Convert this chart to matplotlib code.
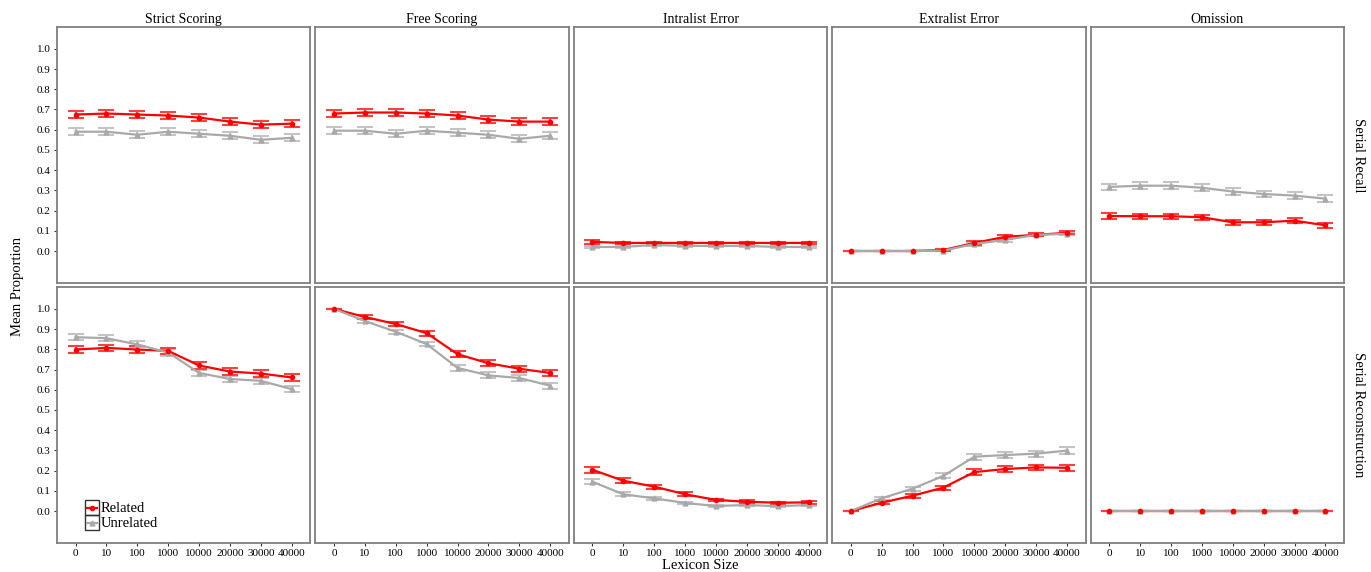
import matplotlib
matplotlib.use("Agg")
from matplotlib import pyplot as plt
from matplotlib.lines import Line2D
from matplotlib.patches import Rectangle

plt.rcParams['font.family'] = ['Liberation Serif', 'DejaVu Serif']

lexicon = ["0", "10", "100", "1000", "10000", "20000", "30000", "40000"]
measures = ["Strict Scoring", "Free Scoring", "Intralist Error", "Extralist Error", "Omission"]
tasks = ["Serial Recall", "Serial Reconstruction"]

# Serial Recall: means and error bar half-widths
recall_rel = [
    [0.675, 0.680, 0.675, 0.670, 0.660, 0.640, 0.625, 0.630],
    [0.680, 0.685, 0.685, 0.680, 0.670, 0.650, 0.640, 0.640],
    [0.045, 0.040, 0.040, 0.040, 0.040, 0.040, 0.040, 0.040],
    [0.000, 0.000, 0.000, 0.005, 0.040, 0.070, 0.080, 0.090],
    [0.173, 0.172, 0.172, 0.167, 0.142, 0.142, 0.150, 0.127],
]
recall_rel_err = [
    [0.017, 0.017, 0.017, 0.017, 0.017, 0.017, 0.017, 0.017],
    [0.017, 0.017, 0.017, 0.017, 0.017, 0.017, 0.017, 0.017],
    [0.008, 0.007, 0.007, 0.007, 0.007, 0.007, 0.007, 0.007],
    [0.002, 0.002, 0.002, 0.003, 0.008, 0.009, 0.008, 0.008],
    [0.013, 0.013, 0.013, 0.013, 0.013, 0.013, 0.013, 0.013],
]
recall_unr = [
    [0.590, 0.590, 0.575, 0.590, 0.580, 0.570, 0.550, 0.560],
    [0.595, 0.595, 0.580, 0.595, 0.585, 0.575, 0.555, 0.570],
    [0.020, 0.020, 0.030, 0.025, 0.025, 0.025, 0.020, 0.020],
    [0.000, 0.000, 0.000, 0.002, 0.035, 0.055, 0.080, 0.085],
    [0.317, 0.323, 0.323, 0.313, 0.294, 0.282, 0.274, 0.259],
]
recall_unr_err = [
    [0.018, 0.018, 0.018, 0.018, 0.018, 0.018, 0.018, 0.018],
    [0.018, 0.018, 0.018, 0.018, 0.018, 0.018, 0.018, 0.018],
    [0.006, 0.006, 0.006, 0.006, 0.006, 0.006, 0.006, 0.006],
    [0.002, 0.002, 0.002, 0.003, 0.008, 0.009, 0.008, 0.008],
    [0.016, 0.016, 0.016, 0.016, 0.016, 0.016, 0.016, 0.016],
]

# Serial Reconstruction
recon_rel = [
    [0.799, 0.807, 0.799, 0.792, 0.720, 0.690, 0.680, 0.661],
    [1.000, 0.960, 0.925, 0.880, 0.776, 0.731, 0.704, 0.683],
    [0.204, 0.150, 0.121, 0.083, 0.055, 0.046, 0.041, 0.043],
    [0.000, 0.041, 0.076, 0.116, 0.193, 0.208, 0.216, 0.214],
    [0.000, 0.000, 0.000, 0.000, 0.000, 0.000, 0.000, 0.000],
]
recon_rel_err = [
    [0.016, 0.016, 0.016, 0.016, 0.016, 0.016, 0.016, 0.016],
    [0.000, 0.008, 0.010, 0.012, 0.014, 0.015, 0.015, 0.015],
    [0.014, 0.012, 0.010, 0.009, 0.007, 0.007, 0.006, 0.007],
    [0.000, 0.007, 0.009, 0.010, 0.013, 0.014, 0.014, 0.015],
    [0.000, 0.000, 0.000, 0.000, 0.000, 0.000, 0.000, 0.000],
]
recon_unr = [
    [0.860, 0.855, 0.824, 0.784, 0.683, 0.653, 0.644, 0.603],
    [1.000, 0.940, 0.887, 0.826, 0.708, 0.671, 0.658, 0.620],
    [0.145, 0.083, 0.063, 0.040, 0.025, 0.030, 0.024, 0.030],
    [0.000, 0.063, 0.111, 0.174, 0.269, 0.277, 0.284, 0.299],
    [0.000, 0.000, 0.000, 0.000, 0.000, 0.000, 0.000, 0.000],
]
recon_unr_err = [
    [0.014, 0.014, 0.015, 0.016, 0.016, 0.016, 0.016, 0.016],
    [0.000, 0.008, 0.009, 0.011, 0.014, 0.015, 0.015, 0.015],
    [0.013, 0.010, 0.008, 0.007, 0.006, 0.006, 0.006, 0.006],
    [0.000, 0.008, 0.010, 0.012, 0.015, 0.015, 0.015, 0.017],
    [0.000, 0.000, 0.000, 0.000, 0.000, 0.000, 0.000, 0.000],
]

rel_col = "#FF0000"
unr_col = "#A9A9A9"

fig, axes = plt.subplots(2, 5, figsize=(13.71, 5.72), dpi=100, sharey=True)
fig.subplots_adjust(left=0.0416, right=0.9803, top=0.9528, bottom=0.0507,
                    wspace=0.02, hspace=0.016)

rows = [(recall_rel, recall_rel_err, recall_unr, recall_unr_err),
        (recon_rel, recon_rel_err, recon_unr, recon_unr_err)]
x = list(range(len(lexicon)))

for r, (rel, rel_e, unr, unr_e) in enumerate(rows):
    for c in range(5):
        ax = axes[r, c]
        # error bars, then lines, then points (like the ggplot layers)
        ax.errorbar(x, unr[c], yerr=unr_e[c], fmt="none", ecolor="#C4C4C4",
                    elinewidth=1.5, capsize=5.5, capthick=1.5, zorder=1)
        ax.errorbar(x, rel[c], yerr=rel_e[c], fmt="none", ecolor="#FF4040",
                    elinewidth=1.5, capsize=5.5, capthick=1.5, zorder=1)
        ax.plot(x, rel[c], color=rel_col, lw=1.6, zorder=2)
        ax.plot(x, unr[c], color=unr_col, lw=1.6, zorder=2.1)
        ax.plot(x, unr[c], ls="none", color=unr_col, marker="^", ms=3.5, zorder=3)
        ax.plot(x, rel[c], ls="none", color=rel_col, marker="o", ms=3, zorder=3.1)
        ax.set_xlim(-0.6, 7.6)
        ax.set_ylim(-0.158, 1.108)
        ax.set_yticks([i / 10 for i in range(11)])
        ax.set_yticklabels(["%.1f" % (i / 10) for i in range(11)])
        ax.set_xticks(x)
        for s in ax.spines.values():
            s.set_color("#7F7F7F")
            s.set_linewidth(1.3)
        ax.tick_params(axis="both", length=2.5, width=0.8, color="#333333",
                       labelsize=8, pad=2, labelcolor="black")
        if r == 0:
            ax.set_title(measures[c], fontsize=10, pad=3)
            ax.tick_params(axis="x", bottom=False, labelbottom=False)
        else:
            ax.set_xticklabels(lexicon)
        if c != 0:
            ax.tick_params(axis="y", left=False, labelleft=False)
        if c == 4:
            ax.text(1.03, 0.5, tasks[r], transform=ax.transAxes, rotation=-90,
                    ha="left", va="center", fontsize=10.5)

# legend drawn by hand: boxed keys stacked, labels to the right
lax = axes[1, 0]
keys = [("Related", rel_col, "o", 3, 0.109), ("Unrelated", unr_col, "^", 3.5, 0.051)]
for label, col, mk, ms, y0 in keys:
    lax.add_patch(Rectangle((0.110, y0), 0.055, 0.058, transform=lax.transAxes,
                            fill=False, ec="#333333", lw=1.0, zorder=5))
    lax.add_line(Line2D([0.118, 0.157], [y0 + 0.029, y0 + 0.029], color=col,
                        lw=1.6, transform=lax.transAxes, zorder=6))
    lax.add_line(Line2D([0.1375], [y0 + 0.029], color=col, marker=mk, ms=ms,
                        transform=lax.transAxes, zorder=6))
    lax.text(0.172, y0 + 0.027, label, transform=lax.transAxes, ha="left",
             va="center", fontsize=10.5)

fig.text(0.013, 0.5, "Mean Proportion", rotation=90, ha="center", va="center",
         fontsize=10.5)
fig.text(0.511, 0.012, "Lexicon Size", ha="center", va="center", fontsize=10.5)

plt.savefig("out.png", dpi=100)
